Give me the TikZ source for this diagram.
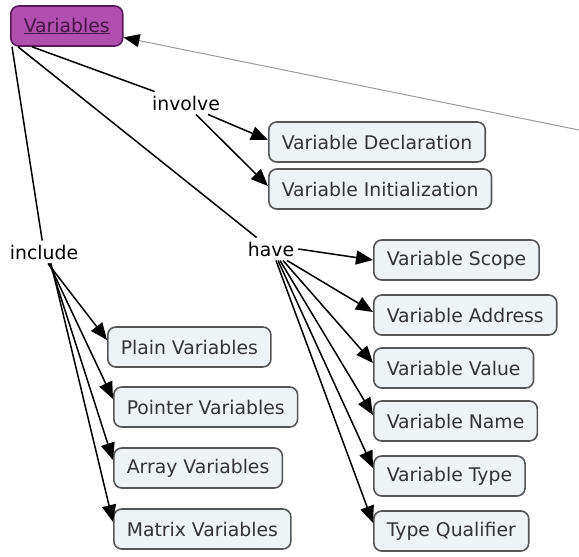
\documentclass[tikz,border=0pt]{standalone}
\usepackage{fontspec}
\setmainfont{DejaVu Sans}
\usetikzlibrary{positioning, arrows.meta}

\definecolor{boxfill}{HTML}{EEF3F6}
\definecolor{boxline}{HTML}{555555}
\definecolor{rootfill}{HTML}{B04FB0}
\definecolor{rootline}{HTML}{5A1A5A}

\begin{document}
\begin{tikzpicture}[
    x=1pt, y=-1pt,
    font=\fontsize{18.8}{22}\selectfont,
    block/.style={rectangle, draw=boxline, fill=boxfill, line width=1.6pt, rounded corners=8pt, minimum height=40pt, inner xsep=13pt, text=black!80, anchor=west},
    root/.style={block, draw=rootline, fill=rootfill, text=rootline!80!black},
    label/.style={inner sep=4pt},
    link/.style={line width=1.5pt},
    arrow/.style={line width=1.5pt, -{Triangle[length=17pt, width=14pt]}},
]
\useasboundingbox (0,0) rectangle (579,557);

% Nodes
\node [root] (vars) at (10,26) {\underline{Variables}};
\node [label] (involve) at (186,103) {involve};
\node [label] (include) at (44,252) {include};
\node [label] (have) at (271,249) {have};

\node [block] (decl) at (268,142) {Variable Declaration};
\node [block] (init) at (268,189) {Variable Initialization};

\node [block] (scope) at (373,260) {Variable Scope};
\node [block] (addr) at (373,315) {Variable Address};
\node [block] (value) at (373,368) {Variable Value};
\node [block] (name) at (373,421) {Variable Name};
\node [block] (type) at (373,476) {Variable Type};
\node [block] (qual) at (373,531) {Type Qualifier};

\node [block] (plain) at (107,347) {Plain Variables};
\node [block] (pointer) at (113,407) {Pointer Variables};
\node [block] (array) at (113,468) {Array Variables};
\node [block] (matrix) at (113,529) {Matrix Variables};

\coordinate (offedge) at (579,130);

% Lines
\draw [link] ([xshift=22pt]vars.south west) -- (involve);
\draw [link] ([xshift=8pt]vars.south west) -- (have);
\draw [link] ([xshift=2pt]vars.south west) -- (include);

\draw [arrow] ([xshift=22pt]involve.south) -- ([yshift=2pt]decl.west);
\draw [arrow] ([xshift=10pt]involve.south) -- ([yshift=3pt]init.west);

\draw [arrow] ([xshift=4pt]include.south) -- ([yshift=7pt]plain.west);
\draw [arrow] ([xshift=5pt]include.south) -- ([yshift=8pt]pointer.west);
\draw [arrow] ([xshift=6pt]include.south) -- ([yshift=8pt]array.west);
\draw [arrow] ([xshift=7pt]include.south) -- ([yshift=7pt]matrix.west);

\draw [arrow] (have.east) -- (scope.west);
\draw [arrow] ([xshift=16pt]have.south) -- ([yshift=3pt]addr.west);
\draw [arrow] ([xshift=12pt]have.south) -- ([yshift=5pt]value.west);
\draw [arrow] ([xshift=9pt]have.south) -- ([yshift=6pt]name.west);
\draw [arrow] ([xshift=7pt]have.south) -- ([yshift=8pt]type.west);
\draw [arrow] ([xshift=5pt]have.south) -- ([yshift=8pt]qual.west);

\draw [black!40, line width=1pt, -{Triangle[length=16pt, width=13pt, color=black]}] (offedge) -- (vars);

\end{tikzpicture}
\end{document}
